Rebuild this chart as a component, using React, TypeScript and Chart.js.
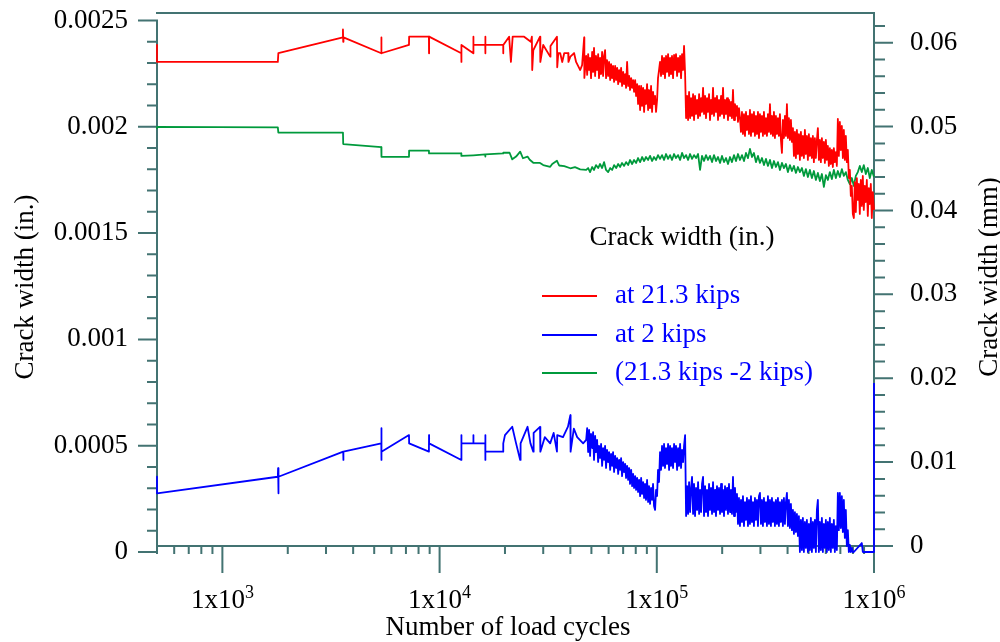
import React, { useEffect, useRef } from 'react';
import { Chart, registerables } from 'chart.js';

Chart.register(...registerables);

// [load cycles, crack width (in.)]
const red21kips: [number, number][] = [
  [500, 0.002385], [500, 0.002305], [1800, 0.002305], [1810, 0.002346], [3590, 0.002421], [3590, 0.002458],
  [3600, 0.0024], [3610, 0.002421], [5390, 0.002346], [5395, 0.00242], [5400, 0.002346], [7230, 0.002385],
  [7240, 0.002424], [8930, 0.002424], [8940, 0.002346], [8950, 0.002424], [12590, 0.002346], [12600, 0.002305],
  [12610, 0.002385], [14300, 0.002346], [14310, 0.002424], [14320, 0.002385], [16230, 0.002385], [16240, 0.002424],
  [16250, 0.002346], [16260, 0.002385], [19630, 0.002385], [19640, 0.002346], [19650, 0.002385], [20900, 0.002424],
  [21300, 0.002305], [21700, 0.002424], [24500, 0.002424], [26300, 0.0024], [26600, 0.002424], [26700, 0.002267],
  [27000, 0.00236], [29000, 0.002424], [29100, 0.002305], [30000, 0.002385], [32300, 0.00233], [32400, 0.00238],
  [34700, 0.002424], [34800, 0.00228], [35200, 0.002346], [35900, 0.002347], [36700, 0.002305], [37500, 0.002347],
  [39100, 0.002347], [39200, 0.002305], [40000, 0.00233], [41600, 0.002347], [42500, 0.002305], [44400, 0.002267],
  [45300, 0.00229], [46300, 0.00242], [46400, 0.00223],
  [47300, 0.002333], [47800, 0.002244], [48300, 0.002342], [48800, 0.002267], [49300, 0.002324], [49800, 0.002229],
  [50400, 0.002352], [50900, 0.002258], [51400, 0.002371], [52000, 0.002239], [52500, 0.002333], [53100, 0.002267],
  [53700, 0.002342], [54200, 0.002229], [54800, 0.002324], [55400, 0.002248], [56000, 0.002352], [56600, 0.002239],
  [57200, 0.002333], [57800, 0.002361], [58400, 0.002229], [59000, 0.002314], [59700, 0.002239], [60300, 0.002305],
  [61000, 0.00222], [61600, 0.002295], [62300, 0.002229], [62900, 0.002286], [63600, 0.002211], [64300, 0.002286],
  [65000, 0.00222], [65700, 0.002277], [66400, 0.002201], [67100, 0.002267], [67800, 0.002211], [68500, 0.002277],
  [69200, 0.002192], [70000, 0.002258], [70700, 0.002201], [71500, 0.002248], [72200, 0.002183], [73000, 0.002305],
  [73800, 0.002192], [74600, 0.002239], [75300, 0.002173], [76200, 0.002229], [77000, 0.002183], [77800, 0.00222],
  [78600, 0.002164], [79500, 0.00222], [80300, 0.002145], [81200, 0.002201], [82000, 0.002107], [82900, 0.002192],
  [83800, 0.002079], [84700, 0.002192], [85600, 0.002098], [86500, 0.002183], [87400, 0.00207], [88300, 0.002173],
  [89200, 0.002107], [90200, 0.002201], [91200, 0.002079], [92100, 0.002173], [93100, 0.002088], [94100, 0.002192],
  [95100, 0.00207], [96100, 0.002164], [97100, 0.002107], [98200, 0.002145], [99200, 0.00207], [100300, 0.002126],
  [101300, 0.002229], [102400, 0.002267], [103500, 0.002305], [104600, 0.002239], [105700, 0.002333], [106900, 0.002248],
  [108000, 0.002324], [109100, 0.002229], [110300, 0.002333], [111500, 0.002258], [112700, 0.002342], [113900, 0.002239],
  [115100, 0.002324], [116300, 0.002248], [117500, 0.002333], [118800, 0.002229], [120100, 0.002338], [121400, 0.002267],
  [122600, 0.002342], [124000, 0.002239], [125300, 0.002324], [126600, 0.002258], [128000, 0.002333], [129300, 0.002229],
  [130700, 0.002342], [132100, 0.002267], [133500, 0.00238], [135000, 0.002248],
  [136400, 0.002041], [137900, 0.002145], [139300, 0.002032], [140800, 0.002164], [142300, 0.002041], [143800, 0.002135],
  [145300, 0.002051], [146900, 0.002154], [148400, 0.002032], [150000, 0.002145], [151600, 0.00206], [153300, 0.002126],
  [154900, 0.002041], [156600, 0.002154], [158200, 0.002051], [159900, 0.002135], [161500, 0.00207], [163300, 0.002183],
  [165000, 0.00206], [166800, 0.002145], [168500, 0.002041], [170300, 0.002135], [172100, 0.00207], [174000, 0.002154],
  [175800, 0.002032], [177700, 0.002126], [179600, 0.00206], [181500, 0.002183], [183400, 0.002051], [185400, 0.002135],
  [187300, 0.00207], [189300, 0.002145], [191400, 0.002032], [193400, 0.002126], [195500, 0.002051], [197600, 0.002145],
  [199600, 0.00206], [201800, 0.002183], [203900, 0.002041], [206100, 0.002126], [208300, 0.00206], [210500, 0.002135],
  [212700, 0.002032], [215000, 0.002126], [217300, 0.002051], [219600, 0.002117], [221900, 0.002041], [224300, 0.002173],
  [226700, 0.002032], [229100, 0.002107], [231500, 0.002051], [234000, 0.002098], [236500, 0.002023], [239000, 0.002088],
  [241500, 0.002041], [244100, 0.001976], [246700, 0.00207], [249300, 0.001966], [252000, 0.00206], [254700, 0.001957],
  [257400, 0.00207], [260100, 0.001985], [262900, 0.002051], [265700, 0.001966], [268500, 0.002079], [271400, 0.001957],
  [274300, 0.00206], [277200, 0.001976], [280100, 0.00207], [283100, 0.001957], [286100, 0.002051], [289200, 0.001966],
  [292300, 0.00207], [295400, 0.001947], [298500, 0.00206], [301700, 0.001976], [304900, 0.002051], [308100, 0.001957],
  [311400, 0.00207], [314700, 0.001966], [318100, 0.002041], [321500, 0.001957], [324900, 0.00206], [328400, 0.001976],
  [331900, 0.002107], [335400, 0.001966], [339000, 0.002051], [342600, 0.001957], [346200, 0.00207], [349900, 0.001947],
  [353600, 0.002051], [357400, 0.001966], [361200, 0.002041], [365000, 0.001957], [368900, 0.00206], [372800, 0.001938],
  [376800, 0.001877], [380800, 0.002032], [384900, 0.001947], [389000, 0.002051], [393100, 0.001957], [397300, 0.002107],
  [401500, 0.001947], [405800, 0.002041], [410100, 0.001938], [414500, 0.002032], [418900, 0.001929], [423400, 0.001994],
  [427900, 0.001863], [432400, 0.001976], [437000, 0.001853], [441700, 0.001985], [446400, 0.001872], [451100, 0.001966],
  [455900, 0.001844], [460800, 0.001976], [465700, 0.001863], [470600, 0.001957], [475600, 0.001853], [480700, 0.001985],
  [485800, 0.001872], [491000, 0.001957], [496200, 0.001844], [501500, 0.001966], [506800, 0.001863], [512200, 0.001947],
  [517700, 0.001853], [523200, 0.001957], [528700, 0.001834], [534400, 0.001947], [540100, 0.001853], [545800, 0.001938],
  [551600, 0.001994], [557500, 0.001844], [563400, 0.001938], [569400, 0.001834], [575500, 0.001947], [581600, 0.001853],
  [587800, 0.001929], [594100, 0.00183], [600400, 0.001938], [606800, 0.001844], [613200, 0.00191], [619700, 0.001816],
  [626300, 0.0019], [633000, 0.001825], [639700, 0.001891], [646500, 0.001811], [653400, 0.0019], [660400, 0.001834],
  [667400, 0.001881], [674500, 0.001816], [681700, 0.002037], [689000, 0.001863], [696300, 0.002023], [703700, 0.001891],
  [711200, 0.002004], [718800, 0.001853], [726400, 0.001985], [734200, 0.001844], [741900, 0.001957], [749900, 0.001834],
  [757800, 0.001891], [765900, 0.001759], [774000, 0.001797], [782200, 0.001675], [790500, 0.001722], [799000, 0.00159],
  [807500, 0.001571], [816000, 0.00174], [824700, 0.001599], [833500, 0.001759], [842400, 0.001656], [851300, 0.001731],
  [860400, 0.00159], [869500, 0.00175], [878800, 0.001628], [888200, 0.001769], [897600, 0.001609], [907200, 0.001722],
  [916800, 0.001646], [926600, 0.00175], [936400, 0.001581], [946400, 0.001712], [956500, 0.001637], [966700, 0.001731],
  [977000, 0.001571], [987400, 0.001693], [1000000, 0.001609],
];

const blue2kips: [number, number][] = [
  [500, 0.000354], [500, 0.000276], [1800, 0.000354], [1805, 0.000394], [1810, 0.000276], [1815, 0.000354],
  [3600, 0.000472], [3605, 0.000433], [3610, 0.000472], [5390, 0.000511], [5395, 0.000582], [5400, 0.000433],
  [5405, 0.000472], [7230, 0.00055], [7240, 0.000511], [8930, 0.000472], [8940, 0.00055], [8950, 0.000511],
  [12590, 0.000433], [12600, 0.00055], [12610, 0.000511], [14300, 0.000511], [14310, 0.00055], [14320, 0.000511],
  [16230, 0.000511], [16240, 0.00055], [16250, 0.000433], [16260, 0.000472], [19630, 0.000472], [19640, 0.000511],
  [20000, 0.00055], [21600, 0.000589], [22500, 0.000511], [23500, 0.000433], [23600, 0.000511], [25400, 0.000589],
  [26200, 0.000511], [27000, 0.000472], [27100, 0.00056], [29000, 0.000589], [29100, 0.000472], [30500, 0.00054],
  [32300, 0.000511], [33500, 0.00056], [34700, 0.000472], [34800, 0.00055], [37000, 0.00054], [39000, 0.00059],
  [40000, 0.000644], [40100, 0.000472], [41500, 0.00058], [43000, 0.00054], [45800, 0.000511],
  [47300, 0.000527], [47800, 0.000583], [48300, 0.00047], [48800, 0.000574], [49300, 0.000452], [49800, 0.000555],
  [50400, 0.000489], [50900, 0.000564], [51400, 0.000433], [52000, 0.000546], [52500, 0.00047], [53100, 0.000527],
  [53700, 0.000423], [54200, 0.000499], [54800, 0.000442], [55400, 0.000508], [56000, 0.000405], [56600, 0.000489],
  [57200, 0.000433], [57800, 0.000499], [58400, 0.000395], [59000, 0.00048], [59700, 0.000423], [60300, 0.00047],
  [61000, 0.000386], [61600, 0.000461], [62300, 0.000405], [62900, 0.00047], [63600, 0.000376], [64300, 0.000452],
  [65000, 0.000395], [65700, 0.000442], [66400, 0.000367], [67100, 0.000433], [67800, 0.000386], [68500, 0.000442],
  [69200, 0.000357], [70000, 0.000423], [70700, 0.000376], [71500, 0.000414], [72200, 0.000348], [73000, 0.000405],
  [73800, 0.000339], [74600, 0.000395], [75300, 0.00032], [76200, 0.000386], [77000, 0.00031], [77800, 0.000367],
  [78600, 0.000301], [79500, 0.000357], [80300, 0.000292], [81200, 0.000348], [82000, 0.000282], [82900, 0.000339],
  [83800, 0.000263], [84700, 0.000348], [85600, 0.000273], [86500, 0.000329], [87400, 0.000254], [88300, 0.00032],
  [89200, 0.000245], [90200, 0.000339], [91200, 0.000235], [92100, 0.00031], [93100, 0.000226], [94100, 0.000301],
  [95100, 0.000245], [96100, 0.00032], [97100, 0.000216], [98200, 0.000198], [99200, 0.000292], [100300, 0.000263],
  [101300, 0.000386], [102400, 0.000329], [103500, 0.00047], [104600, 0.000386], [105700, 0.000499], [106900, 0.000405],
  [108000, 0.000508], [109100, 0.000395], [110300, 0.000489], [111500, 0.000414], [112700, 0.000508], [113900, 0.000386],
  [115100, 0.000499], [116300, 0.000405], [117500, 0.000489], [118800, 0.000395], [120100, 0.000508], [121400, 0.000423],
  [122600, 0.000499], [124000, 0.000386], [125300, 0.000489], [126600, 0.000405], [128000, 0.000508], [129300, 0.000395],
  [130700, 0.00048], [132100, 0.000423], [133500, 0.000499], [135000, 0.00055],
  [136400, 0.000169], [137900, 0.00031], [139300, 0.000179], [140800, 0.000329], [142300, 0.000188], [143800, 0.000301],
  [145300, 0.000353], [146900, 0.000179], [148400, 0.00032], [150000, 0.000169], [151600, 0.000301], [153300, 0.000198],
  [154900, 0.000329], [156600, 0.000179], [158200, 0.000292], [159900, 0.000188], [161500, 0.00032], [163300, 0.000353],
  [165000, 0.000169], [166800, 0.00031], [168500, 0.000188], [170300, 0.000292], [172100, 0.000169], [174000, 0.00032],
  [175800, 0.000198], [177700, 0.000301], [179600, 0.000179], [181500, 0.000329], [183400, 0.000188], [185400, 0.000292],
  [187300, 0.000169], [189300, 0.00031], [191400, 0.000198], [193400, 0.000301], [195500, 0.000179], [197600, 0.00032],
  [199600, 0.000188], [201800, 0.000292], [203900, 0.000169], [206100, 0.00031], [208300, 0.000198], [210500, 0.000301],
  [212700, 0.000179], [215000, 0.00032], [217300, 0.000188], [219600, 0.000292], [221900, 0.000179], [224300, 0.000353],
  [226700, 0.000169], [229100, 0.000301], [231500, 0.000188], [234000, 0.000273], [236500, 0.000132], [239000, 0.000254],
  [241500, 0.000122], [244100, 0.000245], [246700, 0.000141], [249300, 0.000263], [252000, 0.000122], [254700, 0.000235],
  [257400, 0.000151], [260100, 0.000254], [262900, 0.000122], [265700, 0.000245], [268500, 0.000132], [271400, 0.000263],
  [274300, 0.000141], [277200, 0.000235], [280100, 0.000122], [283100, 0.000254], [286100, 0.000151], [289200, 0.000245],
  [292300, 0.000122], [295400, 0.000263], [298500, 0.000278], [301700, 0.000132], [304900, 0.000245], [308100, 0.000122],
  [311400, 0.000254], [314700, 0.000141], [318100, 0.000235], [321500, 0.000122], [324900, 0.000263], [328400, 0.000132],
  [331900, 0.000245], [335400, 0.000122], [339000, 0.000254], [342600, 0.000141], [346200, 0.000235], [349900, 0.000122],
  [353600, 0.000245], [357400, 0.000132], [361200, 0.000254], [365000, 0.000122], [368900, 0.000235], [372800, 0.000141],
  [376800, 0.000245], [380800, 0.000122], [384900, 0.000254], [389000, 0.000132], [393100, 0.000235], [397300, 0.000278],
  [401500, 0.000122], [405800, 0.000245], [410100, 0.000113], [414500, 0.000226], [418900, 0.000103], [423400, 0.000198],
  [427900, 0.000085], [432400, 0.000188], [437000, 0.000094], [441700, 0.000179], [446400, 0.000075], [451100, 0.000169],
  [455900, 0.0], [460800, 0.000151], [465700, 0.000009], [470600, 0.00016], [475600, 0.0], [480700, 0.000141],
  [485800, 0.000019], [491000, 0.000151], [496200, 0.0], [501500, 0.000132], [506800, 0.000009], [512200, 0.00016],
  [517700, 0.0], [523200, 0.000141], [528700, 0.000019], [534400, 0.000151], [540100, 0.0], [545800, 0.000198],
  [551600, 0.000245], [557500, 0.0], [563400, 0.000141], [569400, 0.000009], [575500, 0.00016], [581600, 0.0],
  [587800, 0.000132], [594100, 0.000019], [600400, 0.000151], [606800, 0.0], [613200, 0.000141], [619700, 0.000009],
  [626300, 0.00016], [633000, 0.0], [639700, 0.000132], [646500, 0.000019], [653400, 0.000151], [660400, 0.0],
  [667400, 0.000122], [674500, 0.000009], [681700, 0.000278], [689000, 0.000103], [696300, 0.000278], [703700, 0.000113],
  [711200, 0.000263], [718800, 0.000094], [726400, 0.000245], [734200, 0.000066], [741900, 0.000198], [749900, 0.000028],
  [757800, 0.000103], [765900, 0.0], [774000, 0.000033], [782200, 0.0], [790500, 0.000019], [799000, 0.0],
  [807500, 0.0], [878800, 0.000042], [888200, 0.0], [1000000, 0.0], [1000000, 0.000795],
];

const greenDiff: [number, number][] = [
  [500, 0.00199], [500, 0.002], [1800, 0.001997], [1810, 0.001973], [3590, 0.001973], [3600, 0.001919],
  [5390, 0.001904], [5400, 0.001859], [7230, 0.001859], [7240, 0.001888], [8930, 0.001888], [8940, 0.001875],
  [12590, 0.001875], [12600, 0.001863], [14300, 0.001866], [16230, 0.00187], [16240, 0.00186], [16250, 0.00187],
  [19630, 0.001875], [19640, 0.001878], [21000, 0.001878], [21600, 0.001847], [22500, 0.00186], [23500, 0.001883],
  [24200, 0.001852], [25400, 0.00186], [26000, 0.001845], [27000, 0.001831], [29000, 0.00183], [30000, 0.00182],
  [32300, 0.001812], [33000, 0.001825], [34700, 0.00184], [35500, 0.001818], [37500, 0.001815], [40000, 0.001805],
  [42000, 0.00181], [44400, 0.0018],
  [47300, 0.001797], [48300, 0.001806], [49300, 0.001787], [50400, 0.001811], [51400, 0.001797], [52500, 0.00182],
  [53700, 0.001806], [54800, 0.001825], [56000, 0.001806], [57200, 0.001834], [58400, 0.001797], [59700, 0.001787],
  [61000, 0.001806], [62300, 0.001797], [63600, 0.00182], [65000, 0.001806], [66400, 0.001825], [67800, 0.001811],
  [69200, 0.00183], [70700, 0.001816], [72200, 0.001834], [73800, 0.00182], [75300, 0.001844], [77000, 0.001825],
  [78600, 0.001844], [80300, 0.00183], [82000, 0.001853], [83800, 0.001834], [85600, 0.001858], [87400, 0.001839],
  [89200, 0.001858], [91200, 0.001844], [93100, 0.001863], [95100, 0.001839], [97100, 0.001858], [99200, 0.001844],
  [101300, 0.001867], [103500, 0.001849], [105700, 0.001867], [108000, 0.001844], [110300, 0.001872], [112700, 0.001849],
  [115100, 0.001867], [117500, 0.001844], [120100, 0.001872], [122600, 0.001853], [125300, 0.001867], [128000, 0.001844],
  [130700, 0.001877], [133500, 0.001853], [136400, 0.001867], [139300, 0.001844], [142300, 0.001872], [145300, 0.001849],
  [148400, 0.001867], [151600, 0.001853], [154900, 0.001872], [158200, 0.001797], [161500, 0.001863], [165000, 0.001839],
  [168500, 0.001867], [172100, 0.001844], [175800, 0.001863], [179600, 0.001834], [183400, 0.001867], [187300, 0.001839],
  [191400, 0.001858], [195500, 0.00183], [199600, 0.001863], [203900, 0.001834], [208300, 0.001853], [212700, 0.001825],
  [217300, 0.001858], [221900, 0.001834], [226700, 0.001867], [231500, 0.001839], [236500, 0.001872], [241500, 0.001844],
  [246700, 0.001867], [252000, 0.001839], [257400, 0.001877], [262900, 0.001853], [268500, 0.001896], [274300, 0.001858],
  [280100, 0.001877], [286100, 0.001834], [292300, 0.001863], [298500, 0.00183], [304900, 0.001853], [311400, 0.00182],
  [318100, 0.001849], [324900, 0.001816], [331900, 0.001844], [339000, 0.001806], [346200, 0.001839], [353600, 0.001811],
  [361200, 0.001834], [368900, 0.001797], [376800, 0.00183], [384900, 0.001806], [393100, 0.001825], [401500, 0.001787],
  [410100, 0.00182], [418900, 0.001792], [427900, 0.001816], [437000, 0.001783], [446400, 0.001811], [455900, 0.001787],
  [465700, 0.001806], [475600, 0.001769], [485800, 0.001801], [496200, 0.001764], [506800, 0.001797], [517700, 0.001759],
  [528700, 0.001792], [540100, 0.00175], [551600, 0.001783], [563400, 0.001745], [575500, 0.001778], [587800, 0.001717],
  [600400, 0.001773], [613200, 0.00175], [626300, 0.001787], [639700, 0.001754], [653400, 0.001797], [667400, 0.001759],
  [681700, 0.001792], [696300, 0.001764], [711200, 0.001801], [726400, 0.001769], [741900, 0.001787], [757800, 0.00175],
  [774000, 0.001731], [790500, 0.001759], [807500, 0.001722], [824700, 0.001769], [842400, 0.001787], [860400, 0.001816],
  [878800, 0.001787], [897600, 0.00182], [916800, 0.001778], [936400, 0.001806], [956500, 0.001759], [977000, 0.001797],
  [1000000, 0.001764],
];

const leftTicks = [0, 0.0005, 0.001, 0.0015, 0.002, 0.0025];
const leftTickLabels = ['0', '0.0005', '0.001', '0.0015', '0.002', '0.0025'];
const rightTicks = [0, 0.01, 0.02, 0.03, 0.04, 0.05, 0.06];
const rightTickLabels = ['0', '0.01', '0.02', '0.03', '0.04', '0.05', '0.06'];
const xDecadeExponents = [3, 4, 5, 6];
const seriesLabels = ['at 21.3 kips', 'at 2 kips', '(21.3 kips -2 kips)'];
const seriesColors = ['#ff0000', '#0000ff', '#009a3c'];
const legendTitle = 'Crack width (in.)';
const xTitle = 'Number of load cycles';
const leftTitle = 'Crack width (in.)';
const rightTitle = 'Crack width (mm)';

const SERIF = '"Liberation Serif", "Times New Roman", Times, serif';
const AXIS = '#437372';

const framePlugin = {
  id: 'frameAxes',
  beforeDatasetsDraw(chart: any) {
    const { ctx, chartArea: a, scales } = chart;
    const x = scales.x, y = scales.y, y2 = scales.y2;
    const xAxisY = y2.getPixelForValue(0);
    ctx.save();
    ctx.strokeStyle = AXIS;
    ctx.lineWidth = 2;
    ctx.lineCap = 'butt';
    ctx.beginPath();
    ctx.moveTo(a.left - 1, a.top); ctx.lineTo(a.right + 1, a.top);
    ctx.moveTo(a.left, y.getPixelForValue(0.0025) - 1); ctx.lineTo(a.left, a.bottom + 1);
    ctx.moveTo(a.right, a.top); ctx.lineTo(a.right, xAxisY);
    ctx.moveTo(a.left, xAxisY); ctx.lineTo(a.right, xAxisY);
    for (let i = 0; i <= 25; i++) {
      const py = y.getPixelForValue(i * 0.0001);
      const len = i % 5 === 0 ? 19 : 10;
      ctx.moveTo(a.left - len, py); ctx.lineTo(a.left, py);
    }
    for (let i = 0; i <= 31; i++) {
      const py = y2.getPixelForValue(i * 0.002);
      const len = i % 5 === 0 ? 19 : 11;
      ctx.moveTo(a.right, py); ctx.lineTo(a.right + len, py);
    }
    for (let e = 2; e <= 6; e++) {
      for (let m = 1; m <= 9; m++) {
        const v = m * Math.pow(10, e);
        if (v < 500 || v > 1000000) continue;
        const px = x.getPixelForValue(v);
        const len = m === 1 ? 27 : 8;
        ctx.moveTo(px, xAxisY); ctx.lineTo(px, xAxisY + len);
      }
    }
    ctx.stroke();
    ctx.restore();
  },
  afterDraw(chart: any) {
    const { ctx, scales } = chart;
    const x = scales.x;
    ctx.save();
    ctx.fillStyle = '#000';
    ctx.textBaseline = 'alphabetic';
    xDecadeExponents.forEach((e) => {
      const px = x.getPixelForValue(Math.pow(10, e));
      ctx.font = `27px ${SERIF}`;
      const main = '1x10';
      const w1 = ctx.measureText(main).width;
      ctx.font = `18px ${SERIF}`;
      const sup = String(e);
      const w2 = ctx.measureText(sup).width;
      const sx = px - (w1 + w2) / 2;
      ctx.font = `27px ${SERIF}`;
      ctx.textAlign = 'left';
      ctx.fillText(main, sx, 608);
      ctx.font = `18px ${SERIF}`;
      ctx.fillText(sup, sx + w1, 598);
    });
    ctx.font = `27px ${SERIF}`;
    ctx.textAlign = 'center';
    ctx.fillText(xTitle, 508, 635);
    ctx.save();
    ctx.translate(33, 287);
    ctx.rotate(-Math.PI / 2);
    ctx.fillText(leftTitle, 0, 0);
    ctx.restore();
    ctx.save();
    ctx.translate(997, 277);
    ctx.rotate(-Math.PI / 2);
    ctx.fillText(rightTitle, 0, 0);
    ctx.restore();
    ctx.textAlign = 'center';
    ctx.fillStyle = '#000';
    ctx.fillText(legendTitle, 682, 245);
    const rows = [296, 335, 373];
    seriesLabels.forEach((lab, i) => {
      ctx.strokeStyle = seriesColors[i];
      ctx.lineWidth = 2;
      ctx.beginPath();
      ctx.moveTo(542, rows[i]);
      ctx.lineTo(597, rows[i]);
      ctx.stroke();
      ctx.fillStyle = '#0000ff';
      ctx.textAlign = 'left';
      ctx.fillText(lab, 615, rows[i] + 7);
    });
    ctx.restore();
  },
};

const toXY = (arr: [number, number][]) => arr.map(([cx, cy]) => ({ x: cx, y: cy }));

export default function App() {
  const ref = useRef<HTMLCanvasElement>(null);
  useEffect(() => {
    if (!ref.current) return;
    const series = [red21kips, blue2kips, greenDiff];
    const chart = new Chart(ref.current, {
      type: 'line',
      data: {
        datasets: series.map((s, i) => ({
          label: seriesLabels[i],
          data: toXY(s),
          borderColor: seriesColors[i],
          backgroundColor: seriesColors[i],
          borderWidth: 1.8,
          pointRadius: 0,
          tension: 0,
          fill: false,
          clip: false,
          borderJoinStyle: 'round',
          xAxisID: 'x',
          yAxisID: 'y',
        })),
      } as any,
      options: {
        responsive: false,
        animation: false,
        events: [],
        layout: { padding: { top: 13, bottom: 90, left: 0, right: 0 } },
        plugins: { legend: { display: false }, tooltip: { enabled: false }, title: { display: false } },
        scales: {
          x: { type: 'logarithmic', min: 500, max: 1000000, display: false },
          y: {
            type: 'linear',
            position: 'left',
            min: 0,
            max: 0.0025353,
            bounds: 'data',
            grid: { display: false, drawTicks: false },
            border: { display: false },
            ticks: {
              padding: 29,
              color: '#000',
              autoSkip: false,
              maxRotation: 0,
              font: { family: SERIF, size: 27, lineHeight: 1 },
              callback: (_v: any, i: number) => leftTickLabels[i] ?? '',
            },
            afterBuildTicks: (s: any) => { s.ticks = leftTicks.map((v) => ({ value: v })); },
            afterFit: (s: any) => { s.width = 157; s.paddingTop = 0; s.paddingBottom = 0; },
          },
          y2: {
            type: 'linear',
            position: 'right',
            min: -0.000715,
            max: 0.063543,
            bounds: 'data',
            grid: { display: false, drawTicks: false },
            border: { display: false },
            ticks: {
              padding: 36,
              color: '#000',
              autoSkip: false,
              maxRotation: 0,
              font: { family: SERIF, size: 27, lineHeight: 1 },
              callback: (_v: any, i: number) => rightTickLabels[i] ?? '',
            },
            afterBuildTicks: (s: any) => { s.ticks = rightTicks.map((v) => ({ value: v })); },
            afterFit: (s: any) => { s.width = 126; s.paddingTop = 0; s.paddingBottom = 0; },
          },
        },
      } as any,
      plugins: [framePlugin],
    });
    return () => chart.destroy();
  }, []);
  return (
    <div style={{ position: 'fixed', left: 0, top: 0, width: 1000, height: 642, background: '#fff' }}>
      <canvas ref={ref} width={1000} height={642} style={{ display: 'block', width: 1000, height: 642 }} />
    </div>
  );
}
